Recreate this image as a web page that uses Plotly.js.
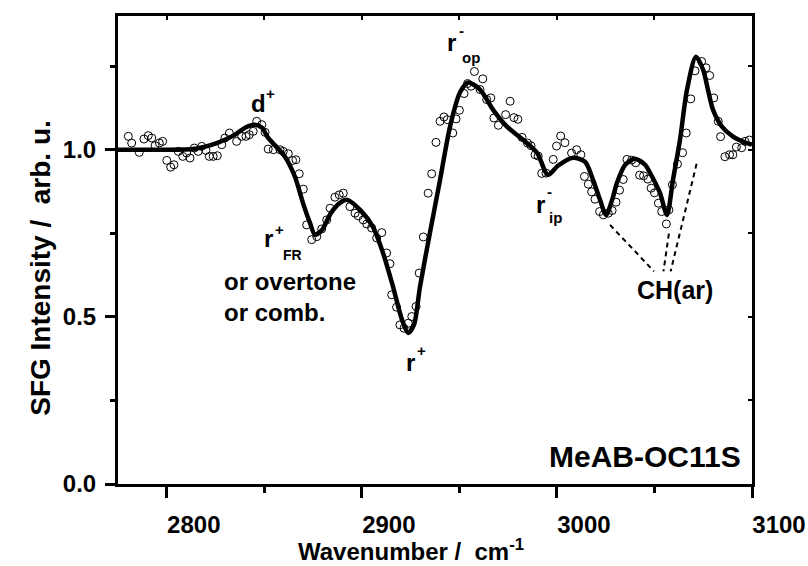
<!DOCTYPE html>
<html>
<head>
<meta charset="utf-8">
<script src="https://cdn.plot.ly/plotly-3.0.1.min.js"></script>
<style>html,body{margin:0;padding:0;background:#fff;}#chart{width:808px;height:566px;}</style>
</head>
<body>
<div id="chart"></div>
<script>
// Measured SFG data (open circles)
const dataWavenumber = [2780.3, 2782.0, 2785.9, 2788.3, 2790.5, 2792.3, 2794.0, 2796.2, 2797.9, 2800.0,
  2802.0, 2803.7, 2805.9, 2808.2, 2810.2, 2811.9, 2814.1, 2816.1, 2817.9, 2820.1,
  2821.8, 2823.8, 2825.9, 2828.2, 2829.8, 2832.1, 2835.8, 2838.4, 2840.6, 2842.3,
  2844.3, 2846.1, 2848.7, 2850.4, 2852.0, 2854.6, 2858.0, 2859.7, 2862.3, 2864.5,
  2866.2, 2867.9, 2870.0, 2871.7, 2874.3, 2876.9, 2879.4, 2882.0, 2883.7, 2886.2,
  2888.4, 2890.5, 2893.9, 2896.5, 2898.2, 2900.7, 2902.5, 2905.0, 2907.6, 2910.2,
  2912.7, 2914.4, 2915.3, 2917.8, 2919.5, 2921.6, 2923.8, 2925.6, 2927.8, 2929.4,
  2931.5, 2934.0, 2935.8, 2938.0, 2940.1, 2942.1, 2943.8, 2946.6, 2948.3, 2950.0,
  2952.4, 2954.2, 2956.0, 2957.7, 2960.6, 2962.0, 2964.0, 2966.1, 2967.7, 2970.0,
  2973.7, 2976.0, 2978.0, 2980.0, 2982.1, 2984.9, 2986.7, 2988.8, 2990.4, 2992.2,
  2994.4, 2998.1, 2999.8, 3001.9, 3004.1, 3007.5, 3010.1, 3012.3, 3014.1, 3016.1,
  3017.8, 3019.5, 3021.9, 3023.8, 3026.3, 3028.3, 3030.3, 3032.1, 3034.0, 3035.9,
  3038.3, 3040.4, 3042.4, 3044.4, 3046.6, 3048.3, 3050.0, 3052.0, 3053.7, 3056.1,
  3057.4, 3059.2, 3061.8, 3064.4, 3066.3, 3068.6, 3070.8, 3074.2, 3076.4, 3078.3,
  3080.4, 3082.7, 3083.9, 3086.1, 3088.5, 3090.2, 3092.0, 3094.7, 3096.4, 3098.6];
const dataIntensity = [1.040, 1.020, 0.992, 1.032, 1.042, 1.035, 1.012, 1.020, 1.025, 0.968,
  0.948, 0.955, 0.995, 0.980, 0.990, 0.975, 1.005, 0.995, 1.010, 0.998,
  0.980, 0.980, 0.982, 1.015, 1.035, 1.050, 1.025, 1.040, 1.040, 1.045,
  1.055, 1.085, 1.075, 1.052, 1.002, 1.000, 1.000, 0.995, 0.988, 0.968,
  0.970, 0.928, 0.882, 0.775, 0.731, 0.740, 0.763, 0.790, 0.825, 0.858,
  0.865, 0.870, 0.830, 0.810, 0.802, 0.790, 0.778, 0.766, 0.736, 0.752,
  0.691, 0.659, 0.566, 0.529, 0.476, 0.466, 0.481, 0.501, 0.531, 0.631,
  0.739, 0.870, 0.928, 1.022, 1.085, 1.098, 1.090, 1.050, 1.092, 1.118,
  1.168, 1.198, 1.190, 1.234, 1.180, 1.212, 1.150, 1.155, 1.095, 1.073,
  1.105, 1.145, 1.096, 1.091, 1.037, 1.020, 1.012, 0.985, 0.981, 0.929,
  0.930, 0.971, 1.011, 1.041, 1.021, 0.990, 1.000, 0.985, 0.920, 0.897,
  0.874, 0.852, 0.815, 0.805, 0.810, 0.818, 0.843, 0.879, 0.911, 0.971,
  0.969, 0.961, 0.924, 0.922, 0.912, 0.885, 0.871, 0.840, 0.815, 0.778,
  0.820, 0.895, 0.957, 0.991, 1.050, 1.152, 1.236, 1.264, 1.245, 1.222,
  1.155, 1.085, 1.039, 0.979, 0.985, 0.985, 1.008, 1.006, 1.025, 1.029];

// Fitted curve (solid line)
const fitWavenumber = [2775, 2796.5, 2814.5, 2826.3, 2835.0, 2840.1, 2845.2, 2848.8, 2851.9, 2860.6,
  2865.7, 2869.8, 2873.4, 2876.0, 2879.6, 2884.2, 2888.8, 2892.4, 2899.1, 2905.7,
  2910.8, 2916.0, 2920.6, 2923.7, 2926.7, 2929.8, 2934.9, 2940.1, 2945.2, 2950.3,
  2954.4, 2960.6, 2967.2, 2974.4, 2982.6, 2989.8, 2995.4, 3000.5, 3008.2, 3014.4,
  3018.5, 3022.1, 3025.2, 3028.3, 3030.8, 3035.0, 3040.0, 3045.2, 3047.7, 3052.8,
  3056.4, 3059.5, 3063.1, 3066.7, 3071.3, 3074.9, 3077.4, 3080.0, 3084.6, 3090.3,
  3095.4, 3100];
const fitIntensity = [1.000, 1.000, 1.003, 1.021, 1.045, 1.066, 1.075, 1.066, 1.036, 0.979,
  0.919, 0.841, 0.781, 0.746, 0.760, 0.811, 0.841, 0.850, 0.820, 0.769,
  0.692, 0.590, 0.491, 0.452, 0.476, 0.590, 0.751, 0.910, 1.069, 1.171,
  1.201, 1.180, 1.120, 1.069, 1.030, 0.991, 0.925, 0.952, 0.976, 0.964,
  0.910, 0.850, 0.805, 0.850, 0.901, 0.955, 0.973, 0.955, 0.931, 0.871,
  0.805, 0.910, 1.030, 1.180, 1.278, 1.240, 1.180, 1.120, 1.069, 1.039,
  1.024, 1.015];

// Axis ticks
const xTickVals = [2800, 2900, 3000, 3100];
const xTickText = ['2800', '2900', '3000', '3100'];
const xMinorVals = [2850, 2950, 3050];
const yTickVals = [0, 0.5, 1.0];
const yTickText = ['0.0', '0.5', '1.0'];
const yMinorVals = [0.25, 0.75, 1.25];

const FONT = 'Liberation Sans, Arial, Helvetica, sans-serif';
const black = '#000';

const traces = [
  {x: dataWavenumber, y: dataIntensity, type: 'scatter', mode: 'markers', name: 'data',
   marker: {symbol: 'circle-open', size: 8, color: black, line: {width: 1, color: black}}},
  {x: fitWavenumber, y: fitIntensity, type: 'scatter', mode: 'lines', name: 'fit',
   line: {color: black, width: 4.5, shape: 'spline', smoothing: 0.8}},
  {x: [], y: [], xaxis: 'x2', yaxis: 'y2', showlegend: false, hoverinfo: 'skip'}
];

function ann(text, x, y, size, extra) {
  return Object.assign({text: text, x: x, y: y, xref: 'x', yref: 'y', showarrow: false,
    font: {family: FONT, size: size, color: black, weight: 700}}, extra || {});
}

const annotations = [
  ann('d', 2846.8, 1.138, 24),
  ann('+', 2853.2, 1.168, 15),
  ann('r', 2946.2, 1.320, 24),
  ann('-', 2950.9, 1.356, 15),
  ann('op', 2956.0, 1.275, 15),
  ann('r', 2852.4, 0.734, 24),
  ann('+', 2858.0, 0.762, 15),
  ann('FR', 2864.7, 0.686, 14),
  ann('or overtone', 2828.3, 0.605, 24, {xanchor: 'left'}),
  ann('or comb.', 2828.3, 0.512, 24, {xanchor: 'left'}),
  ann('r', 2925.0, 0.362, 24),
  ann('+', 2930.4, 0.398, 15),
  ann('r', 2991.8, 0.835, 24),
  ann('-', 2996.3, 0.875, 15),
  ann('ip', 2999.5, 0.796, 15),
  ann('CH(ar)', 3060.5, 0.581, 25),
  ann('MeAB-OC11S', 3095.4, 0.082, 30, {xanchor: 'right'}),
  {text: 'Wavenumber /  cm<sup>-1</sup>', xref: 'paper', yref: 'paper', x: 0.462, y: -0.1745,
   xanchor: 'center', yanchor: 'bottom', borderpad: 0,
   showarrow: false, font: {family: FONT, size: 24, color: black, weight: 700}},
  {text: 'SFG Intensity /  arb. u.', xref: 'paper', yref: 'paper', x: -0.151, y: 0.4615,
   textangle: -90, showarrow: false, font: {family: FONT, size: 28, color: black, weight: 700}}
];

const dash = {color: black, width: 2, dash: '5px,4px'};
const shapes = [
  {type: 'line', xref: 'x', yref: 'y', x0: 3027.2, y0: 0.775, x1: 3049.8, y1: 0.636, line: dash},
  {type: 'line', xref: 'x', yref: 'y', x0: 3057.4, y0: 0.749, x1: 3054.6, y1: 0.636, line: dash},
  {type: 'line', xref: 'x', yref: 'y', x0: 3071.6, y0: 0.958, x1: 3058.3, y1: 0.636, line: dash}
];

const tickFont = {family: FONT, size: 24, color: black, weight: 700};

const layout = {
  width: 808, height: 566,
  margin: {l: 118, r: 56, t: 16, b: 82, pad: 0},
  paper_bgcolor: '#fff', plot_bgcolor: '#fff',
  showlegend: false,
  font: {family: FONT, color: black},
  xaxis: {range: [2775, 3100], tickmode: 'array', tickvals: xTickVals, ticktext: xTickText,
    ticks: 'outside', ticklen: 11, tickwidth: 3, tickcolor: black,
    ticklabelshift: 27, ticklabelstandoff: 6,
    showline: true, linewidth: 3, linecolor: black, mirror: true,
    showgrid: false, zeroline: false, tickfont: tickFont,
    minor: {tickmode: 'array', tickvals: xMinorVals, ticks: 'outside', ticklen: 6, tickwidth: 3, tickcolor: black, showgrid: false}},
  yaxis: {range: [0, 1.4], tickmode: 'array', tickvals: yTickVals, ticktext: yTickText,
    ticks: 'outside', ticklen: 10, tickwidth: 3, tickcolor: black,
    ticklabelstandoff: 4,
    showline: true, linewidth: 3, linecolor: black, mirror: true,
    showgrid: false, zeroline: false, tickfont: tickFont,
    minor: {tickmode: 'array', tickvals: yMinorVals, ticks: 'outside', ticklen: 5, tickwidth: 3, tickcolor: black, showgrid: false}},
  xaxis2: {overlaying: 'x', side: 'top', anchor: 'y', range: [2775, 3100], tickmode: 'array',
    tickvals: [2800, 2850, 2900, 2950, 3000, 3050, 3100], ticks: 'inside', ticklen: 4, tickwidth: 2,
    tickcolor: black, showticklabels: false, showgrid: false, zeroline: false, showline: false},
  yaxis2: {overlaying: 'y', side: 'right', anchor: 'x', range: [0, 1.4], tickmode: 'array',
    tickvals: [0.25, 0.5, 0.75, 1.0, 1.25], ticks: 'inside', ticklen: 4, tickwidth: 2,
    tickcolor: black, showticklabels: false, showgrid: false, zeroline: false, showline: false},
  annotations: annotations,
  shapes: shapes
};

Plotly.newPlot('chart', traces, layout, {staticPlot: true, displayModeBar: false});
</script>
</body>
</html>
